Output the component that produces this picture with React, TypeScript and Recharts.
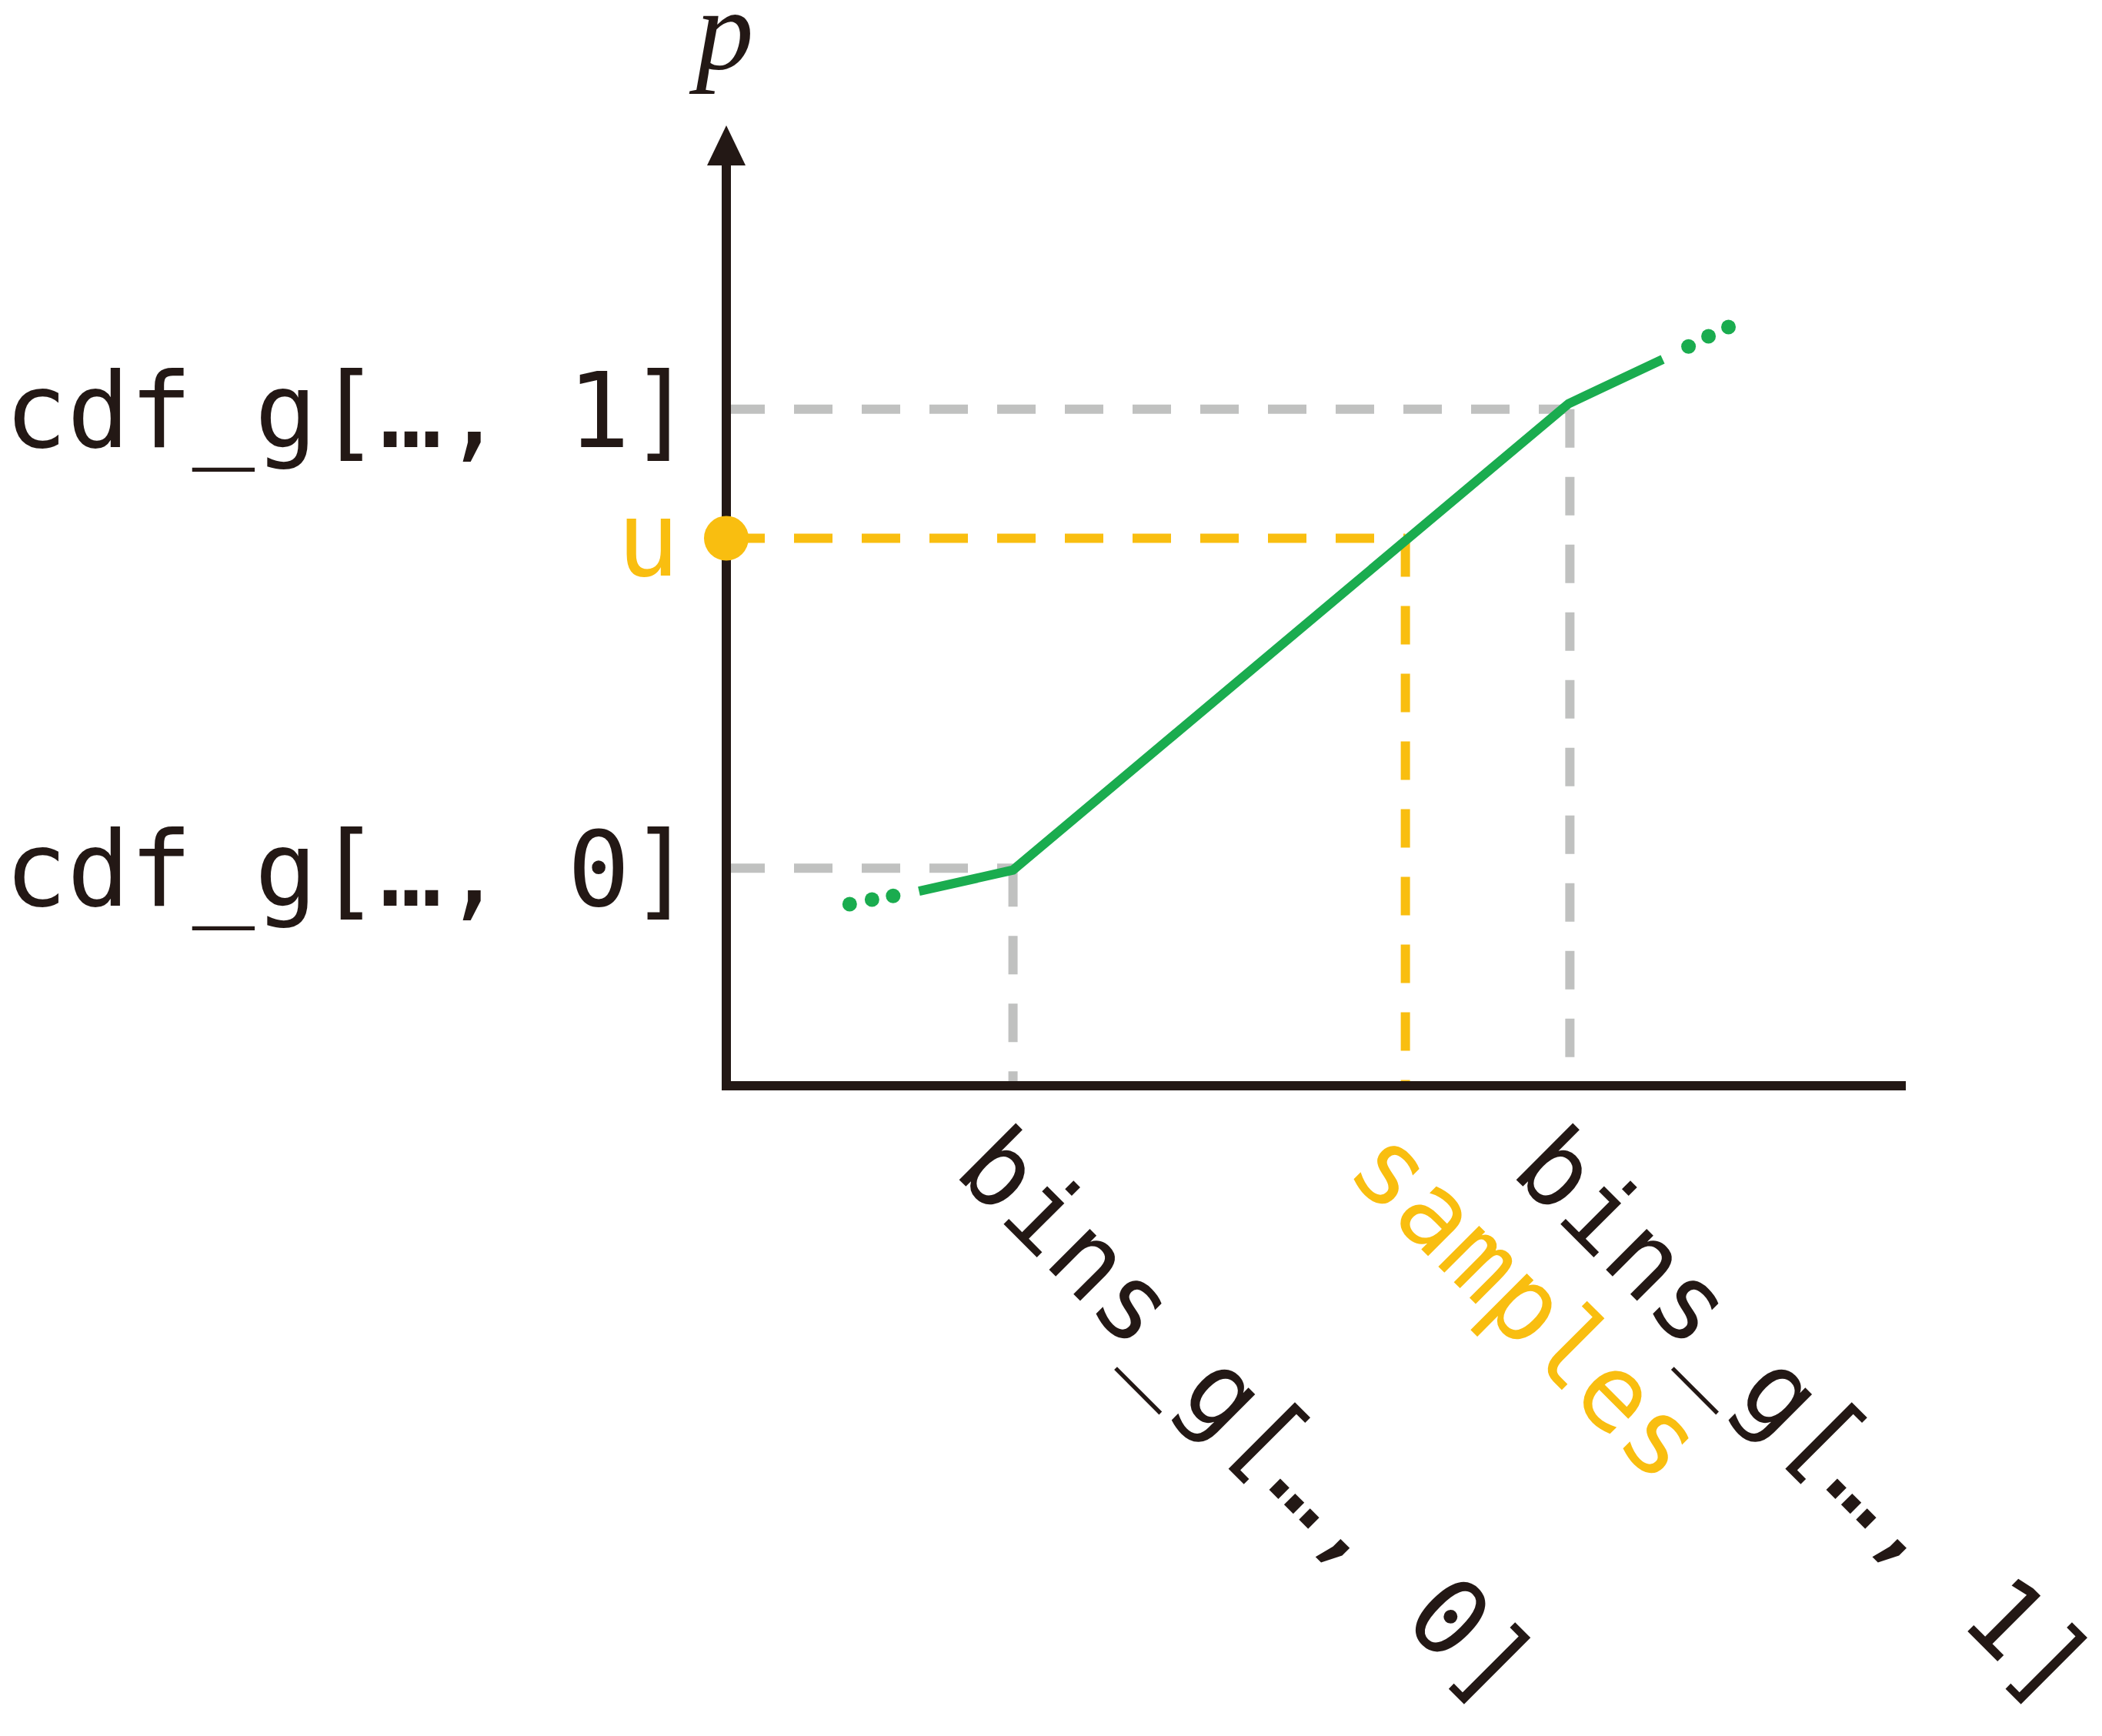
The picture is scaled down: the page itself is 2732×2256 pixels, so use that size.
import React from "react";
import {
  ComposedChart,
  Line,
  Scatter,
  XAxis,
  YAxis,
  ReferenceLine,
  ReferenceDot,
} from "recharts";

// positions on the x (bins) axis and p axis
const binEdges = [2.44, 7.18];
const cdfAtEdges = [0.236, 0.734];
const sampleX = 5.78;
const uValue = 0.594;

// green cdf curve and the "..." dots at both ends
const curveX = [1.64, 2.44, 7.17, 7.97];
const curveP = [0.211, 0.234, 0.74, 0.788];
const leftDotsX = [1.05, 1.24, 1.42];
const leftDotsP = [0.197, 0.202, 0.206];
const rightDotsX = [8.19, 8.36, 8.53];
const rightDotsP = [0.802, 0.813, 0.823];

const xTickLabels = ["bins_g[…, 0]", "samples", "bins_g[…, 1]"];
const yTickLabels = ["cdf_g[…, 0]", "u", "cdf_g[…, 1]"];
const xTicks = [binEdges[0], sampleX, binEdges[1]];
const yTicks = [cdfAtEdges[0], uValue, cdfAtEdges[1]];

const INK = "#231815";
const GREEN = "#1aac4f";
const YELLOW = "#f9be10";
const GRAY = "#c0c1c0";
const MONO = "'DejaVu Sans Mono', monospace";

const curve = curveX.map((b, i) => ({ b, p: curveP[i] }));
const leftDots = leftDotsX.map((b, i) => ({ b, p: leftDotsP[i] }));
const rightDots = rightDotsX.map((b, i) => ({ b, p: rightDotsP[i] }));

const XTick = (props: any) => {
  const { x, y, payload } = props;
  const i = xTicks.indexOf(payload.value);
  return (
    <text
      transform={`translate(${x - 79},${y + 113}) rotate(45)`}
      fontFamily={MONO}
      fontSize={137}
      fill={i === 1 ? YELLOW : INK}
    >
      {xTickLabels[i]}
    </text>
  );
};

const YTick = (props: any) => {
  const { x, y, payload } = props;
  const i = yTicks.indexOf(payload.value);
  // "u" sits flush with the closing brackets above and below it
  const shift = i === 1 ? 17 : 0;
  return (
    <text
      x={x - 44 - shift}
      y={y + 49}
      textAnchor="end"
      fontFamily={MONO}
      fontSize={135}
      fill={i === 1 ? YELLOW : INK}
    >
      {yTickLabels[i]}
    </text>
  );
};

const ArrowHead = (props: any) => {
  const { cx, cy } = props;
  return (
    <g>
      <polygon
        points={`${cx - 25},${cy + 2} ${cx + 25},${cy + 2} ${cx},${cy - 50}`}
        fill={INK}
      />
      <text
        x={cx - 2}
        y={cy - 123}
        textAnchor="middle"
        fontFamily="'Liberation Serif', serif"
        fontStyle="italic"
        fontSize={150}
        fill={INK}
      >
        p
      </text>
    </g>
  );
};

const dot = (props: any) => (
  <circle cx={props.cx} cy={props.cy} r={9.5} fill={GREEN} />
);

const guide = { strokeWidth: 12, strokeDasharray: "50 38" };

export default function App() {
  return (
    <div style={{ margin: -8 }}>
      <ComposedChart
        width={2732}
        height={2256}
        margin={{ top: 213, right: 261, bottom: 815, left: 0 }}
      >
        <XAxis
          type="number"
          dataKey="b"
          domain={[0, 10]}
          ticks={xTicks}
          interval={0}
          tick={<XTick />}
          tickLine={false}
          tickSize={0}
          tickMargin={0}
          height={30}
          axisLine={{ stroke: INK, strokeWidth: 12, strokeLinecap: "square" }}
        />
        <YAxis
          type="number"
          dataKey="p"
          domain={[0, 1]}
          ticks={yTicks}
          interval={0}
          tick={<YTick />}
          tickLine={false}
          tickSize={0}
          tickMargin={0}
          width={944}
          axisLine={{ stroke: INK, strokeWidth: 12, strokeLinecap: "square" }}
        />
        {binEdges.map((b, i) => (
          <ReferenceLine
            key={`h${i}`}
            segment={[
              { x: 0, y: cdfAtEdges[i] },
              { x: b, y: cdfAtEdges[i] },
            ]}
            stroke={GRAY}
            {...guide}
          />
        ))}
        {binEdges.map((b, i) => (
          <ReferenceLine
            key={`v${i}`}
            segment={[
              { x: b, y: cdfAtEdges[i] },
              { x: b, y: 0 },
            ]}
            stroke={GRAY}
            {...guide}
          />
        ))}
        <ReferenceLine
          segment={[
            { x: 0, y: uValue },
            { x: sampleX, y: uValue },
          ]}
          stroke={YELLOW}
          {...guide}
        />
        <ReferenceLine
          segment={[
            { x: sampleX, y: uValue },
            { x: sampleX, y: 0 },
          ]}
          stroke={YELLOW}
          {...guide}
        />
        <Line
          data={curve}
          dataKey="p"
          type="linear"
          stroke={GREEN}
          strokeWidth={12}
          dot={false}
          activeDot={false}
          isAnimationActive={false}
        />
        <Scatter data={leftDots} dataKey="p" shape={dot} isAnimationActive={false} />
        <Scatter data={rightDots} dataKey="p" shape={dot} isAnimationActive={false} />
        <ReferenceDot x={0} y={uValue} r={29} fill={YELLOW} stroke="none" />
        <ReferenceDot x={0} y={1} shape={ArrowHead} />
      </ComposedChart>
    </div>
  );
}
